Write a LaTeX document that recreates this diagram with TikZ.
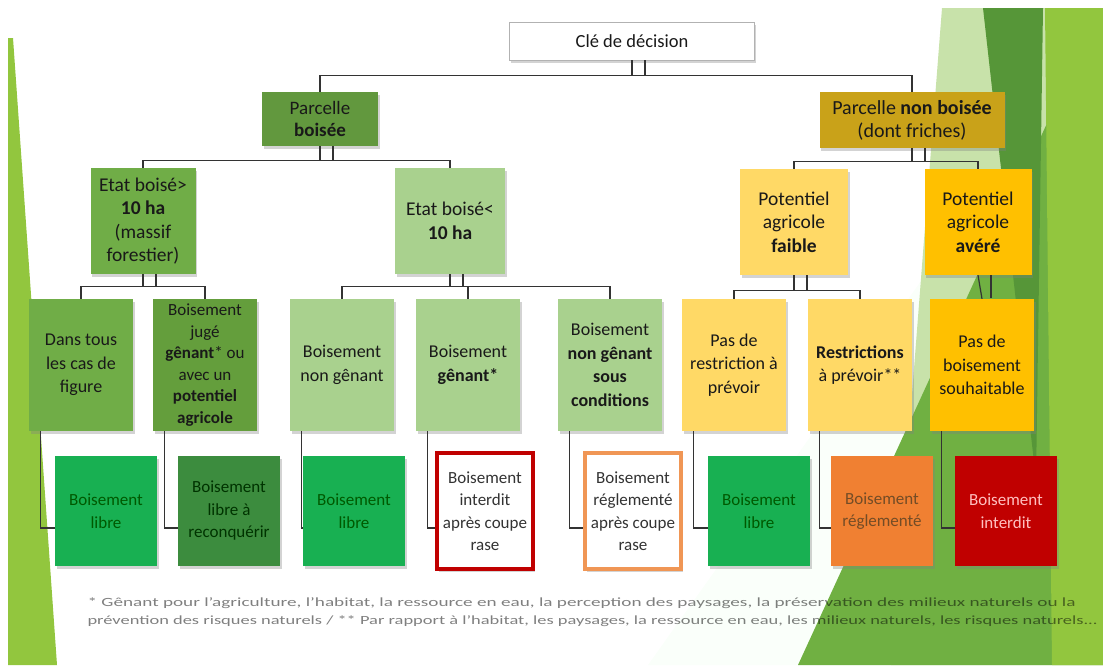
\documentclass[tikz,border=0pt]{standalone}
\usepackage{fontspec}
\setmainfont{Carlito}
\usetikzlibrary{positioning, calc, shadows}

\definecolor{citron}{RGB}{146,198,62}
\definecolor{vertpale}{RGB}{200,226,170}
\definecolor{vertmoyen}{RGB}{112,176,66}
\definecolor{vertsombre}{RGB}{86,150,56}
\definecolor{vertracine}{RGB}{98,152,62}
\definecolor{vertetat}{RGB}{112,173,71}
\definecolor{vertclair}{RGB}{169,209,142}
\definecolor{vertjuge}{RGB}{100,158,60}
\definecolor{vertlibre}{RGB}{24,176,82}
\definecolor{vertreconq}{RGB}{60,140,62}
\definecolor{ocre}{RGB}{201,162,25}
\definecolor{jaunepale}{RGB}{255,217,102}
\definecolor{jauneor}{RGB}{255,192,0}
\definecolor{orange}{RGB}{240,128,50}
\definecolor{orangebord}{RGB}{240,150,85}
\definecolor{rouge}{RGB}{192,0,0}

\begin{document}
\begin{tikzpicture}[x=1pt, y=-1pt,
    bloc/.style={align=center, inner sep=2pt, text=black!90,
      drop shadow={shadow xshift=1.5pt, shadow yshift=-2.5pt, opacity=0.35}},
    niveau1/.style={bloc, minimum height=54pt, font=\fontsize{19}{22}\selectfont},
    niveau2/.style={bloc, minimum height=106pt, font=\fontsize{19.5}{23.5}\selectfont},
    niveau3/.style={bloc, minimum width=104pt, minimum height=132pt, font=\fontsize{18}{23.5}\selectfont},
    resultat/.style={bloc, minimum width=102pt, minimum height=110pt, font=\fontsize{17}{22.5}\selectfont},
    cadre/.style={resultat, fill=white, line width=3.5pt, minimum width=96pt, minimum height=116pt},
    lien/.style={draw=black!80, line width=1.2pt},
    note/.style={anchor=west, text=black, text opacity=0.5, font=\fontsize{12.5}{14}\selectfont},
  ]
  \useasboundingbox (0,0) rectangle (1103,665);

  % Decor of the slide, left sliver
  \fill[citron] (8,38) -- (13,38) -- (57,665) -- (8,665) -- cycle;

  % Decor of the slide, right facets
  \fill[green!2] (1103,25) -- (648,665) -- (1103,665) -- cycle;
  \fill[vertpale] (942,8) -- (1103,8) -- (1103,665) -- (891,665) -- cycle;
  \fill[vertmoyen] (1100,8) -- (1103,8) -- (1103,665) -- (798,665) -- cycle;
  \fill[vertsombre] (983,8) -- (1043,8) -- (1036,480) -- cycle;
  \fill[citron] (1045,8) -- (1103,8) -- (1103,665) -- (1052,665) -- cycle;

  % Top of the key
  \node[bloc, draw=black!30, fill=white, minimum width=245pt, minimum height=38pt,
        font=\fontsize{18.5}{22}\selectfont] (cle) at (632,41) {Clé de décision};

  % First level
  \node[niveau1, fill=vertracine, minimum width=116pt] (pb) at (320,119) {Parcelle\\\textbf{boisée}};
  \node[niveau1, fill=ocre, minimum width=185pt, minimum height=56pt, font=\fontsize{20}{23}\selectfont] (pnb) at (912,120) {Parcelle \textbf{non boisée}\\(dont friches)};

  % Second level
  \node[niveau2, fill=vertetat, minimum width=105pt] (etatsup) at (143,221) {Etat boisé>\\\textbf{10 ha}\\(massif\\forestier)};
  \node[niveau2, fill=vertclair, minimum width=110pt] (etatinf) at (450,221) {Etat boisé<\\\textbf{10 ha}};
  \node[niveau2, fill=jaunepale, minimum width=108pt] (potfaible) at (794,222) {Potentiel\\agricole\\\textbf{faible}};
  \node[niveau2, fill=jauneor, minimum width=107pt] (potavere) at (978,222) {Potentiel\\agricole\\\textbf{avéré}};

  % Third level
  \node[niveau3, fill=vertetat] (dans) at (81,365) {Dans tous\\les cas de\\figure};
  \node[niveau3, fill=vertjuge, font=\fontsize{17}{21.5}\selectfont] (juge) at (205,365) {Boisement\\jugé\\\textbf{gênant}* ou\\avec un\\\textbf{potentiel}\\\textbf{agricole}};
  \node[niveau3, fill=vertclair] (nongenant) at (342,365) {Boisement\\non gênant};
  \node[niveau3, fill=vertclair] (genant) at (468,365) {Boisement\\\textbf{gênant*}};
  \node[niveau3, fill=vertclair] (souscond) at (610,365) {Boisement\\\textbf{non gênant}\\\textbf{sous}\\\textbf{conditions}};
  \node[niveau3, fill=jaunepale] (pasrestr) at (734,365) {Pas de\\restriction à\\prévoir};
  \node[niveau3, fill=jaunepale] (restr) at (860,365) {\textbf{Restrictions}\\à prévoir**};
  \node[niveau3, fill=jauneor] (pasbois) at (982,365) {Pas de\\boisement\\souhaitable};

  % Results
  \node[resultat, fill=vertlibre, text=green!35!black] (libreA) at (106,511) {Boisement\\libre};
  \node[resultat, fill=vertreconq, text=green!20!black] (reconq) at (229,511) {Boisement\\libre à\\reconquérir};
  \node[resultat, fill=vertlibre, text=green!35!black] (libreB) at (354,511) {Boisement\\libre};
  \node[cadre, draw=rouge, text=black!80] (interdit) at (485,511) {Boisement\\interdit\\après coupe\\rase};
  \node[cadre, draw=orangebord, text=black!80] (reglem) at (633,511) {Boisement\\réglementé\\après coupe\\rase};
  \node[resultat, fill=vertlibre, text=green!35!black] (libreC) at (759,511) {Boisement\\libre};
  \node[resultat, fill=orange, text=brown!60!black] (reglemB) at (882,511) {Boisement\\réglementé};
  \node[resultat, fill=rouge, text=red!25] (interditB) at (1006,511) {Boisement\\interdit};

  % Connectors between the levels
  \draw[lien] (cle.south) -- ++(0,15) -| (pb.north);
  \draw[lien] (cle.south) ++(0,15) -| (pnb.north);
  \draw[lien] (pb.south) -- ++(0,14) -| (etatsup.north);
  \draw[lien] (pb.south) ++(0,14) -| (etatinf.north);
  \draw[lien] (pnb.south) -- ++(0,13) -| (potfaible.north);
  \draw[lien] (pnb.south) ++(0,13) -| (potavere.north);
  \draw[lien] (etatsup.south) -- ++(0,12) -| (dans.north);
  \draw[lien] (etatsup.south) ++(0,12) -| (juge.north);
  \draw[lien] (etatinf.south) -- ++(0,12) -| (nongenant.north);
  \draw[lien] (etatinf.south) ++(0,12) -| (genant.north);
  \draw[lien] (etatinf.south) ++(0,12) -| (souscond.north);
  \draw[lien] (potfaible.south) -- ++(0,15) -| (pasrestr.north);
  \draw[lien] (potfaible.south) ++(0,15) -| (restr.north);
  \draw[lien] (potavere.south) -- (pasbois.north);

  % doubled stems under the parents
  \foreach \parent/\long in {cle/15, pb/14, pnb/13, etatsup/12, etatinf/12, potfaible/15, potavere/23}
    \draw[lien] ($(\parent.south)+(13,0)$) -- ++(0,\long);

  % Connectors to the results
  \foreach \cas/\fin in {dans/libreA, juge/reconq, nongenant/libreB, genant/interdit,
                         souscond/reglem, pasrestr/libreC, restr/reglemB, pasbois/interditB}
    \draw[lien] ($(\cas.south west)+(12,0)$) |- ($(\fin.west)+(0,17)$);

  % Footnotes
  \node[note] (note1) at (84,603)
    {\resizebox{988pt}{\height}{* Gênant pour l’agriculture, l’habitat, la ressource en eau, la perception des paysages, la préservation des milieux naturels ou la}};
  \node[note] (note2) at (84,621)
    {\resizebox{1010pt}{\height}{prévention des risques naturels / ** Par rapport à l’habitat, les paysages, la ressource en eau, les milieux naturels, les risques naturels...}};
\end{tikzpicture}
\end{document}
